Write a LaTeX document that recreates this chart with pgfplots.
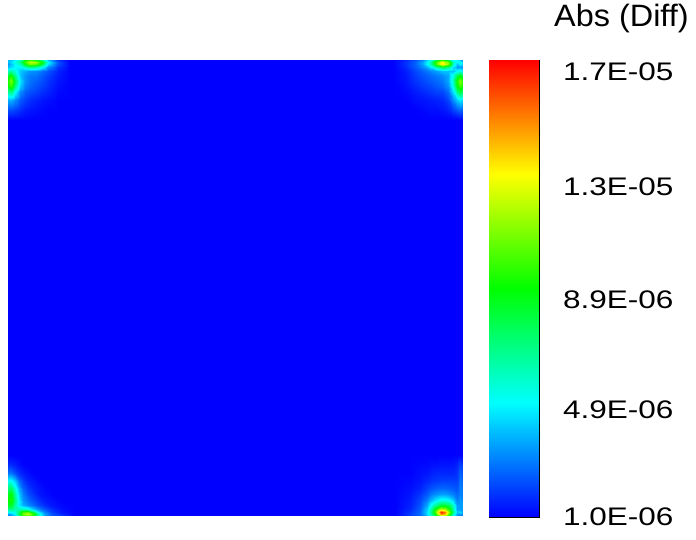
\documentclass[border=0pt]{standalone}
\usepackage{pgfplots}
\pgfplotsset{compat=1.18}
\usepackage{pgfplotstable}
\usepackage{fontspec}
\setmainfont{Liberation Sans}

% values in units of 1E-06; x,y in plot units (0..455, 0..456)
\pgfplotstableread[row sep=\\]{
x y v\\
0 0 1\\ 455 0 1\\
0 456 1\\ 455 456 1\\
}\bg

\pgfplotstableread[row sep=\\]{
x y v\\
0 1 1\\ 1 1 1\\
0 17 17\\ 1 17 17\\
}\cbar

\pgfplotstableread[row sep=\\]{
x y v\\
0 456 4\\ 3 456 4\\ 7 456 5\\ 12 456 6\\ 17 456 9\\ 22 456 10\\ 28 456 9\\ 34 456 7\\ 40 456 4\\ 50 456 1.8\\ 62 456 1\\
0 454 4\\ 3 454 4.5\\ 7 454 5.5\\ 12 454 7\\ 17 454 10\\ 22 454 12\\ 28 454 11.5\\ 34 454 9\\ 40 454 5\\ 50 454 2.3\\ 62 454 1\\
0 452 3.5\\ 3 452 4\\ 7 452 5\\ 12 452 6\\ 17 452 9\\ 22 452 11\\ 28 452 10.5\\ 34 452 8\\ 40 452 4.5\\ 50 452 2.2\\ 62 452 1\\
0 449 4\\ 3 449 4.5\\ 7 449 5\\ 12 449 5\\ 17 449 6\\ 22 449 7\\ 28 449 6.5\\ 34 449 5\\ 40 449 3.2\\ 50 449 1.8\\ 62 449 1\\
0 445 6\\ 3 445 6.5\\ 7 445 5.5\\ 12 445 4.2\\ 17 445 3.7\\ 22 445 3.3\\ 28 445 3.2\\ 34 445 2.8\\ 40 445 2.3\\ 50 445 1.5\\ 62 445 1\\
0 440 8.5\\ 3 440 9.5\\ 7 440 7\\ 12 440 4.2\\ 17 440 3.3\\ 22 440 2.9\\ 28 440 2.8\\ 34 440 2.4\\ 40 440 2\\ 50 440 1.4\\ 62 440 1\\
0 435 9.5\\ 3 435 11\\ 7 435 8\\ 12 435 4.7\\ 17 435 3.3\\ 22 435 2.8\\ 28 435 2.5\\ 34 435 2.2\\ 40 435 1.8\\ 50 435 1.3\\ 62 435 1\\
0 430 9\\ 3 430 10\\ 7 430 7\\ 12 430 4.2\\ 17 430 3\\ 22 430 2.6\\ 28 430 2.3\\ 34 430 2\\ 40 430 1.7\\ 50 430 1.2\\ 62 430 1\\
0 424 6.5\\ 3 424 7\\ 7 424 5\\ 12 424 3.2\\ 17 424 2.5\\ 22 424 2.2\\ 28 424 2\\ 34 424 1.7\\ 40 424 1.5\\ 50 424 1.1\\ 62 424 1\\
0 416 3.8\\ 3 416 3.8\\ 7 416 3.2\\ 12 416 2.4\\ 17 416 2\\ 22 416 1.7\\ 28 416 1.5\\ 34 416 1.3\\ 40 416 1.2\\ 50 416 1\\ 62 416 1\\
0 406 2.2\\ 3 406 2.2\\ 7 406 2\\ 12 406 1.7\\ 17 406 1.4\\ 22 406 1.3\\ 28 406 1.2\\ 34 406 1.1\\ 40 406 1\\ 50 406 1\\ 62 406 1\\
0 396 1\\ 3 396 1\\ 7 396 1\\ 12 396 1\\ 17 396 1\\ 22 396 1\\ 28 396 1\\ 34 396 1\\ 40 396 1\\ 50 396 1\\ 62 396 1\\
}\tl

\pgfplotstableread[row sep=\\]{
x y v\\
385 456 1\\ 397 456 1.5\\ 407 456 2.2\\ 415 456 3.2\\ 422 456 5\\ 428 456 8\\ 434 456 10\\ 440 456 8\\ 445 456 5\\ 449 456 5\\ 452 456 4\\ 455 456 3\\
385 454 1\\ 397 454 1.7\\ 407 454 2.5\\ 415 454 3.7\\ 422 454 6\\ 428 454 10\\ 434 454 13\\ 440 454 11\\ 445 454 6\\ 449 454 5\\ 452 454 5.5\\ 455 454 4\\
385 452 1\\ 397 452 1.7\\ 407 452 2.5\\ 415 452 3.7\\ 422 452 6\\ 428 452 10\\ 434 452 13.5\\ 440 452 11\\ 445 452 6\\ 449 452 4\\ 452 452 5\\ 455 452 4\\
385 449 1\\ 397 449 1.6\\ 407 449 2.4\\ 415 449 3.2\\ 422 449 4.5\\ 428 449 6.5\\ 434 449 8\\ 440 449 7\\ 445 449 4.5\\ 449 449 3.5\\ 452 449 3.5\\ 455 449 3\\
385 445 1\\ 397 445 1.4\\ 407 445 2.1\\ 415 445 2.6\\ 422 445 3.1\\ 428 445 3.5\\ 434 445 4\\ 440 445 4\\ 445 445 4\\ 449 445 5\\ 452 445 5.5\\ 455 445 5\\
385 440 1\\ 397 440 1.3\\ 407 440 1.9\\ 415 440 2.3\\ 422 440 2.6\\ 428 440 2.9\\ 434 440 3.1\\ 440 440 3.6\\ 445 440 5.5\\ 449 440 8\\ 452 440 9\\ 455 440 8\\
385 435 1\\ 397 435 1.3\\ 407 435 1.8\\ 415 435 2.1\\ 422 435 2.4\\ 428 435 2.6\\ 434 435 2.9\\ 440 435 3.6\\ 445 435 6\\ 449 435 9.5\\ 452 435 11\\ 455 435 9.5\\
385 430 1\\ 397 430 1.2\\ 407 430 1.6\\ 415 430 1.9\\ 422 430 2.1\\ 428 430 2.4\\ 434 430 2.6\\ 440 430 3.3\\ 445 430 5.5\\ 449 430 9\\ 452 430 10\\ 455 430 9\\
385 424 1\\ 397 424 1.1\\ 407 424 1.4\\ 415 424 1.6\\ 422 424 1.8\\ 428 424 2\\ 434 424 2.1\\ 440 424 2.7\\ 445 424 4.5\\ 449 424 7\\ 452 424 8\\ 455 424 7\\
385 416 1\\ 397 416 1\\ 407 416 1.2\\ 415 416 1.3\\ 422 416 1.4\\ 428 416 1.5\\ 434 416 1.6\\ 440 416 2.1\\ 445 416 3.2\\ 449 416 4.2\\ 452 416 4.7\\ 455 416 4.2\\
385 406 1\\ 397 406 1\\ 407 406 1\\ 415 406 1.1\\ 422 406 1.2\\ 428 406 1.2\\ 434 406 1.3\\ 440 406 1.5\\ 445 406 2\\ 449 406 2.4\\ 452 406 2.6\\ 455 406 2.4\\
385 396 1\\ 397 396 1\\ 407 396 1\\ 415 396 1\\ 422 396 1\\ 428 396 1\\ 434 396 1\\ 440 396 1\\ 445 396 1\\ 449 396 1\\ 452 396 1\\ 455 396 1\\
}\tr

\pgfplotstableread[row sep=\\]{
x y v\\
0 0 3\\ 3 0 3\\ 7 0 4\\ 11 0 7\\ 15 0 9\\ 20 0 10\\ 25 0 8\\ 30 0 5\\ 36 0 3.2\\ 44 0 2.2\\ 54 0 1.8\\ 67 0 1\\
0 2 3.5\\ 3 2 4\\ 7 2 5\\ 11 2 8\\ 15 2 11\\ 20 2 12\\ 25 2 10\\ 30 2 6.5\\ 36 2 3.7\\ 44 2 2.3\\ 54 2 1.6\\ 67 2 1\\
0 4 5\\ 3 4 5\\ 7 4 5.5\\ 11 4 7.5\\ 15 4 10\\ 20 4 10.5\\ 25 4 8\\ 30 4 5\\ 36 4 3.2\\ 44 4 2\\ 54 4 1.3\\ 67 4 1\\
0 7 7\\ 3 7 7\\ 7 7 6\\ 11 7 6\\ 15 7 6\\ 20 7 5.5\\ 25 7 4.2\\ 30 7 3.2\\ 36 7 2.4\\ 44 7 1.7\\ 54 7 1.2\\ 67 7 1\\
0 11 8.5\\ 3 11 8.5\\ 7 11 6.5\\ 11 11 4.7\\ 15 11 3.8\\ 20 11 3.2\\ 25 11 2.7\\ 30 11 2.2\\ 36 11 1.7\\ 44 11 1.3\\ 54 11 1.1\\ 67 11 1\\
0 16 9\\ 3 16 9.5\\ 7 16 7\\ 11 16 4.7\\ 15 16 3.3\\ 20 16 2.7\\ 25 16 2.2\\ 30 16 1.8\\ 36 16 1.4\\ 44 16 1.2\\ 54 16 1\\ 67 16 1\\
0 22 8.5\\ 3 22 9\\ 7 22 6.5\\ 11 22 4.2\\ 15 22 3\\ 20 22 2.2\\ 25 22 1.8\\ 30 22 1.4\\ 36 22 1.2\\ 44 22 1\\ 54 22 1\\ 67 22 1\\
0 28 7\\ 3 28 7.5\\ 7 28 5.5\\ 11 28 3.7\\ 15 28 2.5\\ 20 28 1.9\\ 25 28 1.5\\ 30 28 1.3\\ 36 28 1.1\\ 44 28 1\\ 54 28 1\\ 67 28 1\\
0 35 5.2\\ 3 35 5.2\\ 7 35 4.2\\ 11 35 2.7\\ 15 35 2\\ 20 35 1.5\\ 25 35 1.3\\ 30 35 1.1\\ 36 35 1\\ 44 35 1\\ 54 35 1\\ 67 35 1\\
0 43 2.8\\ 3 43 2.8\\ 7 43 2.2\\ 11 43 1.7\\ 15 43 1.4\\ 20 43 1.2\\ 25 43 1\\ 30 43 1\\ 36 43 1\\ 44 43 1\\ 54 43 1\\ 67 43 1\\
0 52 1.6\\ 3 52 1.6\\ 7 52 1.4\\ 11 52 1.2\\ 15 52 1\\ 20 52 1\\ 25 52 1\\ 30 52 1\\ 36 52 1\\ 44 52 1\\ 54 52 1\\ 67 52 1\\
0 61 1\\ 3 61 1\\ 7 61 1\\ 11 61 1\\ 15 61 1\\ 20 61 1\\ 25 61 1\\ 30 61 1\\ 36 61 1\\ 44 61 1\\ 54 61 1\\ 67 61 1\\
}\bl

\pgfplotstableread[row sep=\\]{
x y v\\
387 0 1\\ 402 0 1.8\\ 412 0 2.5\\ 419 0 4\\ 424 0 6\\ 429 0 9\\ 433 0 11\\ 437 0 10\\ 441 0 8\\ 445 0 5\\ 449 0 3\\ 452 0 3\\ 455 0 2.5\\
387 2 1\\ 402 2 2\\ 412 2 2.7\\ 419 2 4.5\\ 424 2 7\\ 429 2 11\\ 433 2 15\\ 437 2 14\\ 441 2 10\\ 445 2 6\\ 449 2 3.5\\ 452 2 3.5\\ 455 2 3\\
387 4 1\\ 402 4 1.8\\ 412 4 2.7\\ 419 4 4.5\\ 424 4 7.5\\ 429 4 12\\ 433 4 16.5\\ 437 4 15\\ 441 4 11\\ 445 4 7\\ 449 4 4\\ 452 4 4.5\\ 455 4 3.5\\
387 7 1\\ 402 7 1.6\\ 412 7 2.5\\ 419 7 4.2\\ 424 7 7\\ 429 7 10\\ 433 7 12\\ 437 7 11.5\\ 441 7 9.5\\ 445 7 6.5\\ 449 7 3.5\\ 452 7 3.5\\ 455 7 3.5\\
387 11 1\\ 402 11 1.5\\ 412 11 2.3\\ 419 11 3.6\\ 424 11 5.5\\ 429 11 7\\ 433 11 8\\ 437 11 8\\ 441 11 7.5\\ 445 11 6\\ 449 11 3.5\\ 452 11 3.5\\ 455 11 3.5\\
387 16 1\\ 402 16 1.4\\ 412 16 2.1\\ 419 16 3\\ 424 16 4\\ 429 16 4.8\\ 433 16 5.3\\ 437 16 5.3\\ 441 16 5\\ 445 16 4.2\\ 449 16 3\\ 452 16 3.5\\ 455 16 3\\
387 22 1\\ 402 22 1.3\\ 412 22 1.8\\ 419 22 2.4\\ 424 22 3\\ 429 22 3.3\\ 433 22 3.5\\ 437 22 3.5\\ 441 22 3.3\\ 445 22 3\\ 449 22 2.6\\ 452 22 3\\ 455 22 3\\
387 28 1\\ 402 28 1.2\\ 412 28 1.5\\ 419 28 2\\ 424 28 2.3\\ 429 28 2.5\\ 433 28 2.6\\ 437 28 2.6\\ 441 28 2.5\\ 445 28 2.4\\ 449 28 2.3\\ 452 28 3\\ 455 28 2.8\\
387 35 1\\ 402 35 1.1\\ 412 35 1.3\\ 419 35 1.6\\ 424 35 1.8\\ 429 35 1.9\\ 433 35 2\\ 437 35 2\\ 441 35 2\\ 445 35 2\\ 449 35 2\\ 452 35 2.8\\ 455 35 2.6\\
387 43 1\\ 402 43 1\\ 412 43 1.2\\ 419 43 1.3\\ 424 43 1.5\\ 429 43 1.6\\ 433 43 1.6\\ 437 43 1.6\\ 441 43 1.6\\ 445 43 1.6\\ 449 43 1.8\\ 452 43 2.5\\ 455 43 2.3\\
387 52 1\\ 402 52 1\\ 412 52 1.1\\ 419 52 1.1\\ 424 52 1.2\\ 429 52 1.2\\ 433 52 1.3\\ 437 52 1.3\\ 441 52 1.3\\ 445 52 1.3\\ 449 52 1.5\\ 452 52 2\\ 455 52 1.8\\
387 61 1\\ 402 61 1\\ 412 61 1\\ 419 61 1\\ 424 61 1\\ 429 61 1\\ 433 61 1\\ 437 61 1\\ 441 61 1\\ 445 61 1\\ 449 61 1\\ 452 61 1\\ 455 61 1\\
}\br

\pgfplotsset{
  tecmap/.style={
    colormap={tec}{rgb255=(0,0,255) rgb255=(0,255,255) rgb255=(0,255,0) rgb255=(255,255,0) rgb255=(255,0,0)},
    point meta min=1, point meta max=17,
  },
}
\newcommand{\wl}[1]{\scalebox{1.24}[1]{#1}}

\begin{document}
\begin{tikzpicture}
\useasboundingbox (-8bp,-24bp) rectangle (688bp,516bp);
\begin{axis}[
  name=ax, at={(0,0)}, anchor=south west,
  scale only axis, width=455bp, height=456bp,
  xmin=0, xmax=455, ymin=0, ymax=456,
  view={0}{90}, hide axis, tecmap,
]
\addplot3[surf, shader=interp, mesh/cols=2, point meta=\thisrow{v}] table[x=x,y=y,z=v] {\bg};
\addplot3[surf, shader=interp, mesh/cols=11, point meta=\thisrow{v}] table[x=x,y=y,z=v] {\tl};
\addplot3[surf, shader=interp, mesh/cols=12, point meta=\thisrow{v}] table[x=x,y=y,z=v] {\tr};
\addplot3[surf, shader=interp, mesh/cols=12, point meta=\thisrow{v}] table[x=x,y=y,z=v] {\bl};
\addplot3[surf, shader=interp, mesh/cols=13, point meta=\thisrow{v}] table[x=x,y=y,z=v] {\br};
\end{axis}
\begin{axis}[
  at={(ax.north east)}, anchor=north west, xshift=26bp,
  scale only axis, width=50bp, height=457bp,
  xmin=0, xmax=1, ymin=1, ymax=17, tecmap,
  axis line style={black, line width=0.8pt},
  xtick=\empty,
  ytick={1,4.74,8.6,12.55,16.58},
  yticklabels={\wl{1.0E-06},\wl{4.9E-06},\wl{8.9E-06},\wl{1.3E-05},\wl{1.7E-05}},
  yticklabel pos=right,
  major tick length=0pt,
  tick label style={font=\fontsize{25.5}{25.5}\selectfont},
  yticklabel style={inner sep=0pt, anchor=west, xshift=24bp},
  title={\scalebox{1.05}[1]{Abs (Diff)}},
  title style={font=\fontsize{31}{31}\selectfont, at={(1,1)}, anchor=base west, inner sep=0pt, xshift=15bp, yshift=28bp},
]
\addplot[surf, shader=interp, mesh/cols=2, point meta=\thisrow{v}] table[x=x,y=y] {\cbar};
\end{axis}
\end{tikzpicture}
\end{document}
